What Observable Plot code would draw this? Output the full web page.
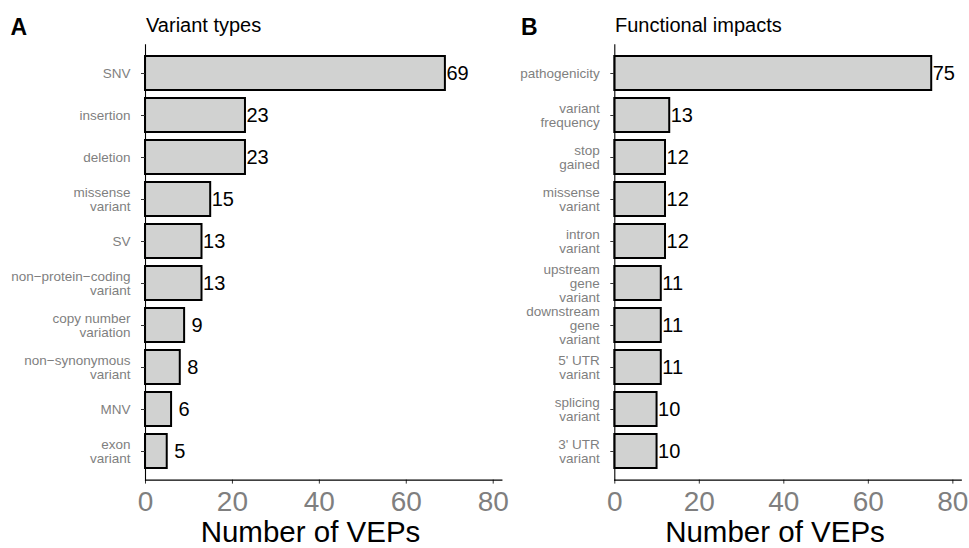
<!DOCTYPE html>
<html>
<head>
<meta charset="utf-8">
<script src="https://cdn.jsdelivr.net/npm/d3@7"></script>
<script src="https://cdn.jsdelivr.net/npm/@observablehq/plot@0.6"></script>
<style>
  html, body { margin: 0; padding: 0; background: #fff; }
  #wrap { position: relative; width: 969px; height: 548px; overflow: hidden; font-family: "Liberation Sans", Arial, Helvetica, sans-serif; }
  #panelA { position: absolute; left: 0; top: 0; }
  #panelB { position: absolute; left: 510px; top: 0; }
  #overlay { position: absolute; left: 0; top: 0; pointer-events: none; }
</style>
</head>
<body>
<div id="wrap">
  <div id="panelA"></div>
  <div id="panelB"></div>
  <svg id="overlay" width="969" height="548" font-family="Liberation Sans, Arial, Helvetica, sans-serif"></svg>
</div>
<script>
// ---- data ----
const typeCategories = [
  "SNV", "insertion", "deletion", "missense\nvariant", "SV",
  "non\u2212protein\u2212coding\nvariant", "copy number\nvariation",
  "non\u2212synonymous\nvariant", "MNV", "exon\nvariant"
];
const typeCounts = [69, 23, 23, 15, 13, 13, 9, 8, 6, 5];

const impactCategories = [
  "pathogenicity", "variant\nfrequency", "stop\ngained", "missense\nvariant",
  "intron\nvariant", "upstream\ngene\nvariant", "downstream\ngene\nvariant",
  "5' UTR\nvariant", "splicing\nvariant", "3' UTR\nvariant"
];
const impactCounts = [75, 13, 12, 12, 12, 11, 11, 11, 10, 10];

const xTicks = [0, 20, 40, 60, 80];
const xDomain = [0, 82];
const panelTitles = ["Variant types", "Functional impacts"];
const panelTags = ["A", "B"];
const axisTitle = "Number of VEPs";

// ---- drawing ----
const FONT = "Liberation Sans, Arial, Helvetica, sans-serif";

function panel(categories, counts, opts) {
  const data = categories.map((c, i) => ({c, v: counts[i]}));
  return Plot.plot({
    width: opts.width,
    height: 548,
    marginLeft: opts.marginLeft,
    marginRight: opts.marginRight,
    marginTop: 44.4,
    marginBottom: 68.4,
    style: {fontFamily: FONT, background: "transparent", overflow: "visible"},
    x: {domain: xDomain},
    y: {domain: categories, padding: 0.2},
    marks: [
      Plot.barX(data, {x: "v", y: "c", fill: "#d1d2d1", stroke: "black", strokeWidth: 2}),
      Plot.text(data.filter(d => d.v >= 10), {x: "v", y: "c", text: d => String(d.v), textAnchor: "start", dx: 1, fontSize: 20, fill: "black"}),
      Plot.text(data.filter(d => d.v < 10), {x: "v", y: "c", text: d => String(d.v), textAnchor: "start", dx: 7, fontSize: 20, fill: "black"}),
      Plot.axisY({tickSize: 4, tickPadding: 11, fontSize: 13.5, fill: "#7f7f7f", stroke: "#333", lineHeight: 1.06, label: null, tickFormat: d => d}),
      Plot.axisX({ticks: xTicks, tickSize: 4, tickPadding: 7, fontSize: 28, fill: "#7f7f7f", stroke: "#333", label: null}),
      Plot.frame({anchor: "left", stroke: "black", strokeWidth: 1.1}),
      Plot.frame({anchor: "bottom", stroke: "black", strokeWidth: 1.1})
    ]
  });
}

document.getElementById("panelA").appendChild(
  panel(typeCategories, typeCounts, {width: 510, marginLeft: 145, marginRight: 8.6})
);
document.getElementById("panelB").appendChild(
  panel(impactCategories, impactCounts, {width: 459, marginLeft: 104.3, marginRight: 8.2})
);

// titles / tags / axis titles
const ov = d3.select("#overlay");
const tagX = [10.5, 521];
const titleX = [146, 615];
const axisTitleX = [310.5, 775];
for (let i = 0; i < 2; i++) {
  ov.append("text").attr("x", tagX[i]).attr("y", 35).attr("font-size", 23).attr("font-weight", "bold").attr("fill", "black").text(panelTags[i]);
  ov.append("text").attr("x", titleX[i]).attr("y", 31.7).attr("font-size", 20).attr("fill", "black").text(panelTitles[i]);
  ov.append("text").attr("x", axisTitleX[i]).attr("y", 541.5).attr("font-size", 29.5).attr("text-anchor", "middle").attr("fill", "black").text(axisTitle);
}
</script>
</body>
</html>
